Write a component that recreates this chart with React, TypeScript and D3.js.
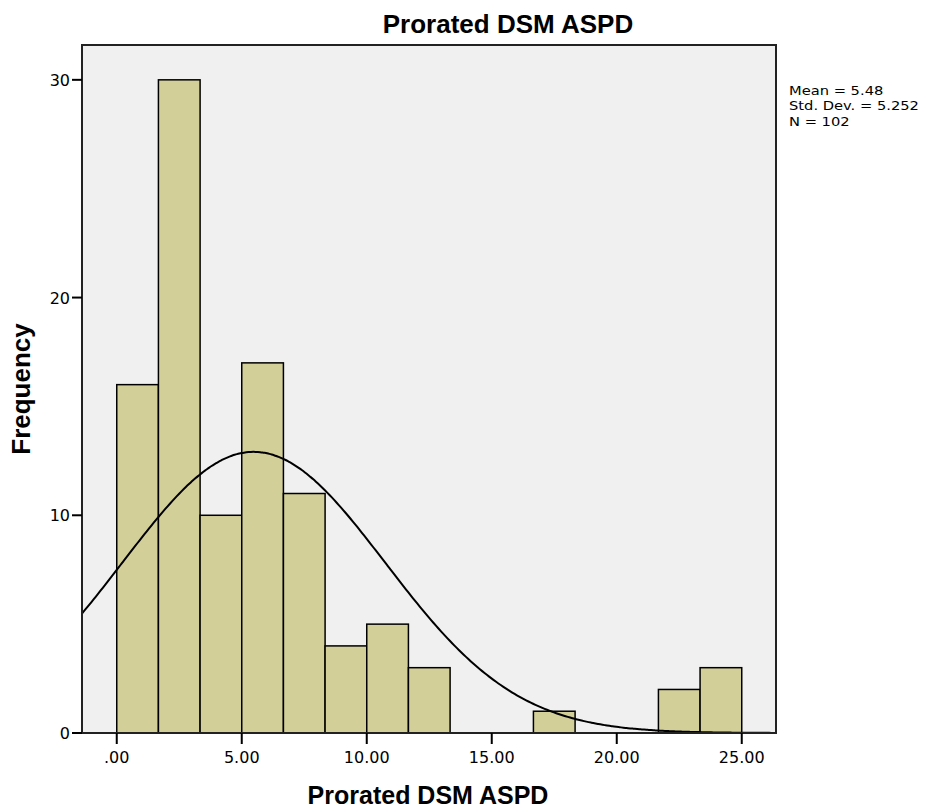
import React from "react";
import * as d3 from "d3";

// histogram bins (lower edge) and counts, bin width 5/3
const binStarts = [0, 1.667, 3.333, 5, 6.667, 8.333, 10, 11.667, 13.333, 15, 16.667, 18.333, 20, 21.667, 23.333];
const counts = [16, 30, 10, 17, 11, 4, 5, 3, 0, 0, 1, 0, 0, 2, 3];
const binWidth = 5 / 3;
const xTicks = [0, 5, 10, 15, 20, 25];
const yTicks = [0, 10, 20, 30];
const mean = 5.48;
const sd = 5.252;
const n = 102;
const statLines = ["Mean = 5.48", "Std. Dev. = 5.252", "N = 102"];

const W = 933, H = 808;
const left = 82, right = 776, top = 45, bottom = 733;

export default function App() {
  const x = d3.scaleLinear().domain([-1.39, 26.37]).range([left, right]);
  const y = d3.scaleLinear().domain([0, 31.6]).range([bottom, top]);

  // fitted normal curve scaled to counts
  const pdf = (v: number) =>
    (n * binWidth) / (sd * Math.sqrt(2 * Math.PI)) * Math.exp(-0.5 * ((v - mean) / sd) ** 2);
  const curvePts = d3.range(0, 301).map((i) => {
    const v = -1.39 + (i / 300) * (26.37 + 1.39);
    return [x(v), y(pdf(v))] as [number, number];
  });
  const line = d3.line().curve(d3.curveBasis)(curvePts) || "";

  const fmt = (v: number) => d3.format(".2f")(v).replace(/^0\./, ".");
  const bold = "'Liberation Sans', Arial, sans-serif";
  const small = "'DejaVu Sans', Verdana, sans-serif";

  return (
    <svg width={W} height={H} style={{ position: "absolute", left: 0, top: 0 }} fontFamily={bold}>
      <rect x={0} y={0} width={W} height={H} fill="#ffffff" />
      <text x={508} y={33} textAnchor="middle" fontSize={26} fontWeight="bold">
        Prorated DSM ASPD
      </text>
      <rect x={left} y={top} width={right - left} height={bottom - top} fill="#f0f0f0" />
      <defs>
        <clipPath id="plot">
          <rect x={left} y={top} width={right - left} height={bottom - top} />
        </clipPath>
      </defs>
      {counts.map((c, i) =>
        c > 0 ? (
          <rect
            key={i}
            x={x(binStarts[i])}
            y={y(c)}
            width={x(binStarts[i] + binWidth) - x(binStarts[i])}
            height={y(0) - y(c)}
            fill="#d3cf99"
            stroke="#000"
            strokeWidth={1.5}
          />
        ) : null
      )}
      <path d={line} fill="none" stroke="#000" strokeWidth={2} clipPath="url(#plot)" />
      <rect x={left} y={top} width={right - left} height={bottom - top} fill="none" stroke="#222" strokeWidth={2} />
      {yTicks.map((t) => (
        <g key={t}>
          <line x1={72} x2={left} y1={y(t)} y2={y(t)} stroke="#000" strokeWidth={2} />
          <text x={70} y={y(t) + 6} textAnchor="end" fontSize={16} fontFamily={small}>
            {t}
          </text>
        </g>
      ))}
      {xTicks.map((t) => (
        <g key={t}>
          <line x1={x(t)} x2={x(t)} y1={bottom} y2={bottom + 11} stroke="#000" strokeWidth={2} />
          <text x={x(t)} y={763} textAnchor="middle" fontSize={16} fontFamily={small}>
            {fmt(t)}
          </text>
        </g>
      ))}
      <text x={428} y={804} textAnchor="middle" fontSize={25} fontWeight="bold">
        Prorated DSM ASPD
      </text>
      <text
        transform={`translate(30, ${(top + bottom) / 2}) rotate(-90)`}
        textAnchor="middle"
        fontSize={26}
        fontWeight="bold"
      >
        Frequency
      </text>
      <g transform="translate(789, 0) scale(1.13, 1)">
        {statLines.map((s, i) => (
          <text key={i} x={0} y={95 + i * 15.5} fontSize={13} fontFamily={small}>
            {s}
          </text>
        ))}
      </g>
    </svg>
  );
}
